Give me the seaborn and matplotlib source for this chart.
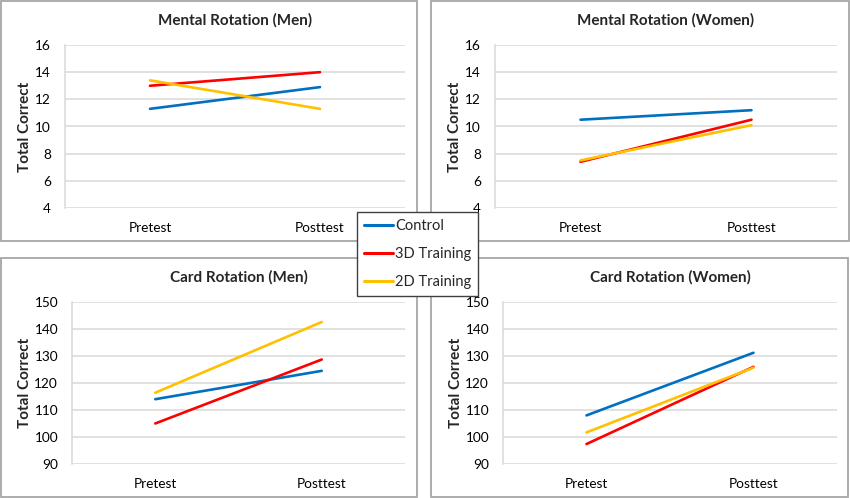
import matplotlib
matplotlib.use("Agg")
import matplotlib.pyplot as plt
from matplotlib.patches import Rectangle
from matplotlib.lines import Line2D
import seaborn as sns
import pandas as pd

sns.set_theme(style="white")
plt.rcParams['font.family'] = ['Lato', 'DejaVu Sans']

phases = ["Pretest", "Posttest"]
groups = ["Control", "3D Training", "2D Training"]
colors = ["#0070C0", "#FF0000", "#FFC000"]

titles = ["Mental Rotation (Men)", "Mental Rotation (Women)",
          "Card Rotation (Men)", "Card Rotation (Women)"]

mr_men_control = [11.3, 12.9]
mr_men_3d = [13.0, 14.0]
mr_men_2d = [13.4, 11.3]

mr_women_control = [10.5, 11.2]
mr_women_3d = [7.4, 10.5]
mr_women_2d = [7.5, 10.1]

cr_men_control = [114.0, 124.5]
cr_men_3d = [105.0, 128.7]
cr_men_2d = [116.4, 142.6]

cr_women_control = [108.0, 131.2]
cr_women_3d = [97.4, 126.0]
cr_women_2d = [101.7, 125.7]

mr_ticks = [4, 6, 8, 10, 12, 14, 16]
cr_ticks = [90, 100, 110, 120, 130, 140, 150]

panel_data = [
    (mr_men_control, mr_men_3d, mr_men_2d),
    (mr_women_control, mr_women_3d, mr_women_2d),
    (cr_men_control, cr_men_3d, cr_men_2d),
    (cr_women_control, cr_women_3d, cr_women_2d),
]
panel_ticks = [mr_ticks, mr_ticks, cr_ticks, cr_ticks]

W, H = 850, 498
fig = plt.figure(figsize=(W / 100, H / 100), dpi=100)

def fx(x):
    return x / W

def fy(y):
    return 1 - y / H

# panel frames (pixel coords: x0, y0, x1, y1)
frames = [(1, 1, 417, 241), (431, 1, 849, 241), (1, 258, 417, 497), (431, 258, 848, 497)]
for x0, y0, x1, y1 in frames:
    fig.patches.append(Rectangle((fx(x0), fy(y1)), fx(x1 - x0), (y1 - y0) / H,
                                 transform=fig.transFigure, fill=False,
                                 edgecolor="#a6a6a6", linewidth=1.3))

# plot areas (pixel coords)
areas = [(65, 45, 405, 208), (495, 45, 837, 208), (72, 302, 405, 464), (503, 302, 837, 464)]

for i, (x0, y0, x1, y1) in enumerate(areas):
    ax = fig.add_axes([fx(x0), fy(y1), fx(x1 - x0), (y1 - y0) / H])
    rows = []
    for g, vals in zip(groups, panel_data[i]):
        for p, v in zip(phases, vals):
            rows.append({"Phase": p, "Group": g, "Value": v})
    df = pd.DataFrame(rows)
    sns.lineplot(data=df, x="Phase", y="Value", hue="Group", hue_order=groups,
                 palette=colors, sort=False, linewidth=1.9, ax=ax, legend=False)
    ticks = panel_ticks[i]
    ax.set_xlim(-0.5, 1.5)
    ax.set_ylim(ticks[0], ticks[-1])
    ax.set_yticks(ticks)
    ax.yaxis.grid(True, color="#d9d9d9", linewidth=1.1)
    ax.set_axisbelow(True)
    for s in ["top", "right", "bottom"]:
        ax.spines[s].set_visible(False)
    ax.spines["left"].set_color("#d9d9d9")
    ax.spines["left"].set_linewidth(1.1)
    ax.tick_params(axis="both", length=0, labelsize=9.8, colors="black")
    ax.tick_params(axis="y", pad=10)
    ax.tick_params(axis="x", pad=10)
    ax.set_xlabel("")
    ax.set_ylabel("Total Correct", fontsize=11, fontweight="bold", labelpad=2)
    ax.set_title(titles[i], fontsize=11, fontweight="bold", pad=15)

handles = [Line2D([0], [0], color=c, linewidth=2.2) for c in colors]
leg = fig.legend(handles, groups, loc="upper left",
                 bbox_to_anchor=(fx(357), fy(212)), bbox_transform=fig.transFigure,
                 fontsize=10.5, frameon=True, fancybox=False, handlelength=2.0,
                 handletextpad=0.1, labelspacing=0.95, borderpad=0.5,
                 borderaxespad=0, framealpha=1)
leg.get_frame().set_edgecolor("#404040")
leg.get_frame().set_linewidth(1.0)

fig.savefig("out.png", dpi=100)
